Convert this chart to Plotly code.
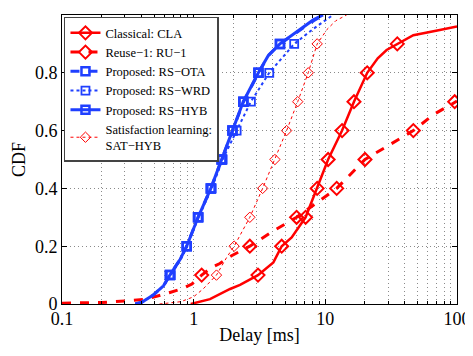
import plotly.graph_objects as go

# ── Colours ───────────────────────────────────────────────────────────────────
RED  = "#ff0000"
BLUE = "#1f3fff"
FONT = "Liberation Serif"

# ── Data (delay in ms, CDF) ───────────────────────────────────────────────────
CLA_X = [0.95, 1.33, 1.89, 2.25, 3.08, 4.03, 4.66, 5.55, 7.08, 8.67, 10.5, 13.4,
         16.5, 20.8, 25.0, 29.2, 35.2, 46.6, 74.0, 100.0]
CLA_Y = [0.0, 0.017, 0.052, 0.066, 0.1, 0.144, 0.2, 0.23, 0.3, 0.4, 0.5, 0.6,
         0.7, 0.8, 0.85, 0.879, 0.9, 0.93, 0.948, 0.96]

RU_X = [0.1, 0.2, 0.31, 0.44, 0.66, 0.83, 0.97, 1.15, 1.37, 1.58, 1.94, 2.67,
        4.03, 6.05, 8.6, 12.2, 20.0, 29.2, 46.6, 66.0, 96.0, 100.0]
RU_Y = [0.003, 0.005, 0.011, 0.017, 0.04, 0.054, 0.069, 0.1, 0.126, 0.14, 0.167, 0.2,
        0.253, 0.3, 0.35, 0.4, 0.5, 0.546, 0.6, 0.655, 0.7, 0.702]

OTA_X = [0.36, 0.40, 0.49, 0.59, 0.66, 0.79, 0.885, 1.08, 1.35, 1.63, 1.97, 2.39,
         3.11, 3.70, 4.53, 6.45, 8.15, 9.7]
OTA_Y = [0.0, 0.005, 0.03, 0.063, 0.1, 0.155, 0.2, 0.3, 0.4, 0.5, 0.6, 0.7,
         0.8, 0.86, 0.9, 0.95, 0.98, 1.0]

WRD_X = [0.36, 0.40, 0.49, 0.59, 0.67, 0.80, 0.89, 1.09, 1.37, 1.66, 2.12, 2.72,
         3.75, 4.65, 5.8, 8.0, 10.0, 11.4]
WRD_Y = [0.0, 0.005, 0.03, 0.063, 0.1, 0.155, 0.2, 0.3, 0.4, 0.5, 0.6, 0.7,
         0.8, 0.85, 0.9, 0.95, 0.98, 1.0]

HYB_X = [0.36, 0.40, 0.49, 0.59, 0.66, 0.79, 0.885, 1.08, 1.35, 1.63, 1.97, 2.38,
         3.10, 3.69, 4.52, 6.4, 8.1, 9.6]
HYB_Y = [0.0, 0.005, 0.03, 0.063, 0.1, 0.155, 0.2, 0.3, 0.4, 0.5, 0.6, 0.7,
         0.8, 0.86, 0.9, 0.948, 0.983, 1.0]

SAT_X = [0.55, 0.8, 1.0, 1.18, 1.49, 1.78, 2.03, 2.67, 3.34, 4.14, 5.08, 6.17,
         7.41, 8.67, 10.3, 12.0, 14.5]
SAT_Y = [0.0, 0.008, 0.025, 0.052, 0.1, 0.161, 0.2, 0.3, 0.4, 0.5, 0.6, 0.7,
         0.8, 0.9, 0.95, 0.98, 1.0]

X_TICKS = [0.1, 1, 10, 100]
X_TICKTEXT = ["0.1", "1", "10", "100"]
Y_TICKS = [0, 0.2, 0.4, 0.6, 0.8, 1]
Y_TICKTEXT = ["0", "0.2", "0.4", "0.6", "0.8", "1"]
X_MINOR = [k * 10 ** e for e in (-1, 0, 1) for k in range(2, 10)]

SERIES = [
    # name, x, y, colour, dash, line width, symbol, marker size, marker line width
    ("Classical: CLA", CLA_X, CLA_Y, RED, "solid", 2.5, "diamond-open", 10, 2),
    ("Reuse\u22121: RU\u22121", RU_X, RU_Y, RED, "dash", 3, "diamond-open", 10, 2),
    ("Proposed: RS\u2212OTA", OTA_X, OTA_Y, BLUE, "dash", 3, "square-open", 8, 2.5),
    ("Proposed: RS\u2212WRD", WRD_X, WRD_Y, BLUE, "dot", 2, "square-open", 8, 1.8),
    ("Proposed: RS\u2212HYB", HYB_X, HYB_Y, BLUE, "solid", 3, "square-open", 8, 2.5),
    ("Satisfaction learning:<br>SAT\u2212HYB", SAT_X, SAT_Y, RED, "dot", 1, "diamond-open", 8, 1),
]


def _is_tenth(v):
    return 0 < v < 1 and abs(v * 10 - round(v * 10)) < 1e-9


fig = go.Figure()
for name, xs, ys, col, dash, lw, sym, ms, mlw in SERIES:
    line = dict(color=col, width=lw, dash=dash)
    marker = dict(symbol=sym, size=ms, color=col, line=dict(color=col, width=mlw))
    fig.add_trace(go.Scatter(x=xs, y=ys, mode="lines", line=line,
                             showlegend=False, hoverinfo="skip"))
    mx = [x for x, y in zip(xs, ys) if _is_tenth(y)]
    my = [y for y in ys if _is_tenth(y)]
    fig.add_trace(go.Scatter(x=mx, y=my, mode="markers", marker=marker,
                             showlegend=False, hoverinfo="skip"))
    # legend entry only
    fig.add_trace(go.Scatter(x=[None], y=[None], mode="lines+markers", name=name,
                             line=line, marker=marker))

GRID = dict(gridcolor="#8a8a8a", gridwidth=1, griddash="1px,3px")

# page body adds an 8px offset, so the figure is 8px smaller than the window
fig.update_layout(
    width=465, height=348,
    plot_bgcolor="white", paper_bgcolor="white",
    margin=dict(l=54, r=16, t=7, b=52, autoexpand=False),
    font=dict(family=FONT, size=18, color="black"),
    xaxis=dict(
        type="log", range=[-1, 2],
        tickvals=X_TICKS, ticktext=X_TICKTEXT,
        ticks="inside", ticklen=5, tickcolor="black",
        showline=True, linecolor="black", linewidth=1, mirror="ticks",
        showgrid=True, **GRID,
        minor=dict(tickvals=X_MINOR, ticks="inside", ticklen=3, tickcolor="black",
                   showgrid=True, **GRID),
        title=dict(text="Delay [ms]", standoff=0, font=dict(size=18)),
        ticklabelstandoff=-2,
        automargin=False,
        zeroline=False,
    ),
    yaxis=dict(
        range=[0, 1],
        tickvals=Y_TICKS, ticktext=Y_TICKTEXT,
        ticks="inside", ticklen=5, tickcolor="black",
        showline=True, linecolor="black", linewidth=1, mirror="ticks",
        showgrid=True, **GRID,
        title=dict(text="CDF", standoff=4, font=dict(size=18)),
        automargin=False,
        zeroline=False,
    ),
    legend=dict(
        x=0.005, y=0.994, xanchor="left", yanchor="top",
        bgcolor="white", bordercolor="#444444", borderwidth=1.5,
        font=dict(family=FONT, size=12.5),
        tracegroupgap=0, itemwidth=30,
    ),
)

fig.write_html("out.html")
